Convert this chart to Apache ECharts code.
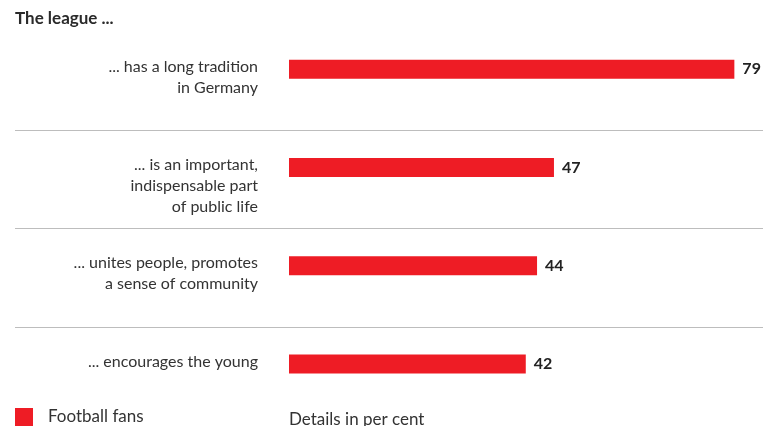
<!DOCTYPE html>
<html>
<head>
<meta charset="utf-8">
<script src="https://cdn.jsdelivr.net/npm/echarts@6/dist/echarts.min.js"></script>
<style>
  html, body { margin: 0; padding: 0; background: #fff; }
  #chart { width: 763px; height: 426px; }
</style>
</head>
<body>
<div id="chart"></div>
<script>
// Statements about the league and the share of football fans agreeing (per cent)
const statements = [
  '... has a long tradition\nin Germany',
  '... is an important,\nindispensable part\nof public life',
  '... unites people, promotes\na sense of community',
  '... encourages the young'
];
const fanShares = [79, 47, 44, 42];
const seriesName = 'Football fans';
const headline = 'The league ...';
const unitNote = 'Details in per cent';

const FONT = 'Lato';
const RED = '#ee1c25';
const TEXT = '#333333';

const chart = echarts.init(document.getElementById('chart'), null, { renderer: 'canvas' });

chart.setOption({
  animation: false,
  backgroundColor: '#ffffff',
  textStyle: { fontFamily: FONT },
  title: [
    {
      text: headline,
      left: 15, top: 10,
      padding: 0,
      textStyle: { fontFamily: FONT, fontSize: 17, fontWeight: 'bold', color: '#2a2a2a' }
    },
    {
      text: unitNote,
      left: 289, top: 411,
      padding: 0,
      textStyle: { fontFamily: FONT, fontSize: 17, fontWeight: 'normal', color: TEXT }
    }
  ],
  legend: {
    left: 15, top: 408,
    padding: 0,
    itemWidth: 18, itemHeight: 18,
    icon: 'rect',
    selectedMode: false,
    textStyle: { fontFamily: FONT, fontSize: 17, color: TEXT, padding: [-5, 0, 0, 10] },
    data: [seriesName]
  },
  grid: [
    // bars
    { left: 289, right: 23, top: 20, bottom: 13, containLabel: false },
    // row separators, shifted below the bars' bands
    { left: 15, right: 0, top: 32, bottom: 1, containLabel: false }
  ],
  xAxis: [
    { gridIndex: 0, type: 'value', min: 0, max: 80, show: false },
    { gridIndex: 1, type: 'value', min: 0, max: 1, show: false }
  ],
  yAxis: [
    {
      gridIndex: 0,
      type: 'category',
      inverse: true,
      data: statements,
      axisLine: { show: false },
      axisTick: { show: false },
      splitLine: { show: false },
      axisLabel: {
        margin: 31,
        align: 'right',
        verticalAlign: 'top',
        fontFamily: FONT,
        fontSize: 16,
        lineHeight: 21,
        color: TEXT,
        padding: [-13, 0, 0, 0]
      }
    },
    {
      gridIndex: 1,
      type: 'category',
      inverse: true,
      data: statements,
      axisLine: { show: false },
      axisTick: { show: false },
      axisLabel: { show: false },
      splitLine: {
        show: true,
        showMinLine: false,
        showMaxLine: false,
        lineStyle: { color: '#bdbdbd', width: 1 }
      }
    }
  ],
  series: [
    {
      name: seriesName,
      type: 'bar',
      xAxisIndex: 0,
      yAxisIndex: 0,
      data: fanShares,
      barWidth: 19,
      itemStyle: { color: RED },
      label: {
        show: true,
        position: 'right',
        distance: 8,
        fontFamily: FONT,
        fontSize: 16,
        fontWeight: 'bold',
        color: '#222222'
      }
    }
  ]
});
</script>
</body>
</html>
